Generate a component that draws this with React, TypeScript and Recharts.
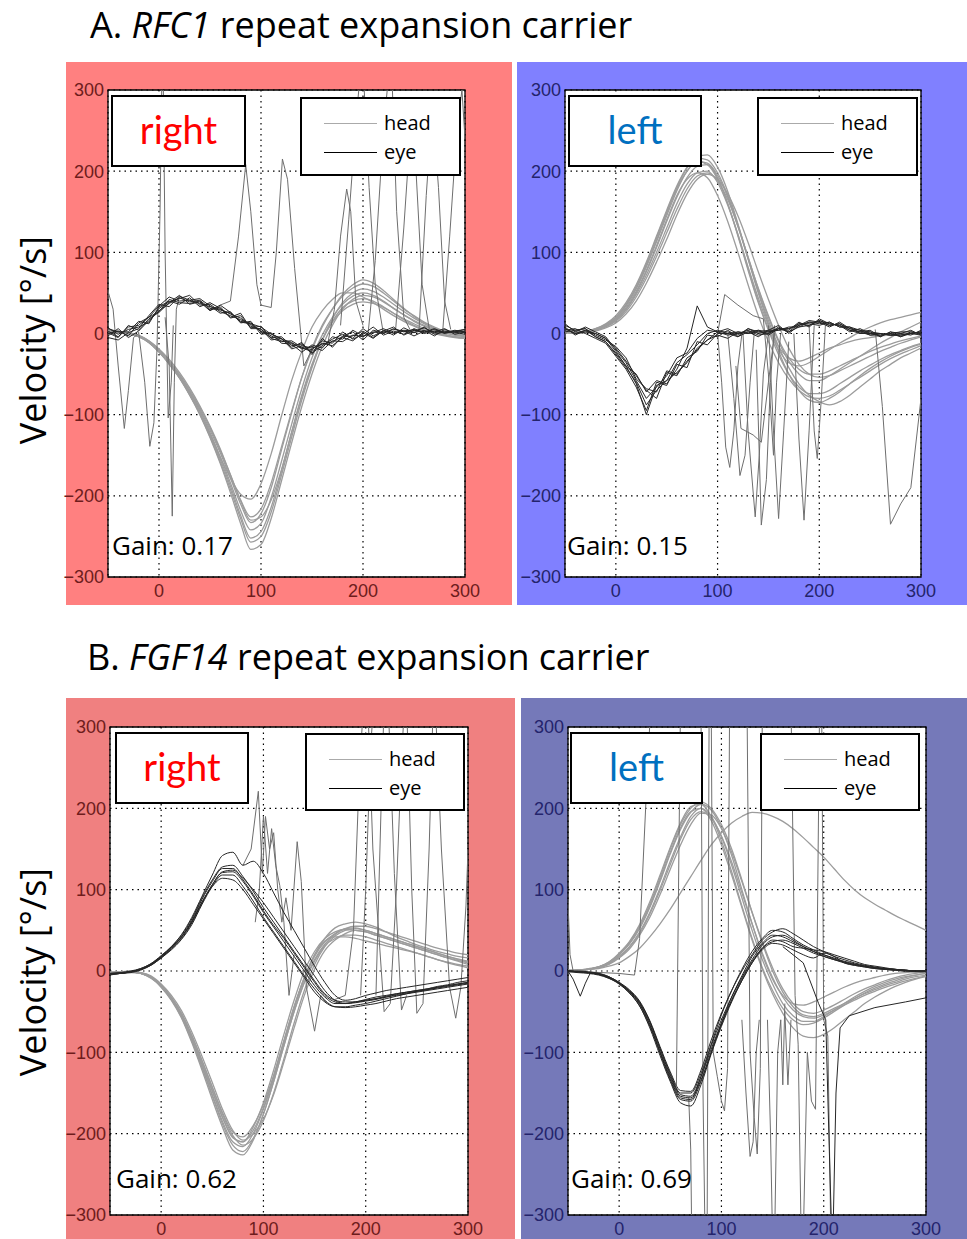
import React from "react";
import {
  LineChart,
  Line,
  XAxis,
  YAxis,
  CartesianGrid,
  ReferenceArea,
} from "recharts";

// time base (ms) for the smooth traces
const T10 = [
  -50, -40, -30, -20, -10, 0, 10, 20, 30, 40, 50, 60, 70, 80, 90, 100, 110, 120,
  130, 140, 150, 160, 170, 180, 190, 200, 210, 220, 230, 240, 250, 260, 270, 280, 290, 300,
];
const X_TICKS = [0, 100, 200, 300];
const Y_TICKS = [-300, -200, -100, 0, 100, 200, 300];

// ---- A. RFC1, right ----
const aRightHead = [
  [2, 1, 0, -4, -11, -23, -38, -55, -76, -100, -128, -160, -196, -234, -266, -260, -228, -182, -135, -90, -50, -16, 10, 30, 42, 47, 45, 39, 31, 23, 16, 10, 5, 1, -2, -4],
  [3, 2, 0, -3, -10, -22, -37, -54, -75, -99, -127, -158, -192, -228, -257, -250, -220, -175, -128, -82, -42, -8, 18, 38, 50, 55, 52, 45, 36, 27, 19, 12, 6, 2, -1, -3],
  [3, 2, 0, -3, -10, -22, -36, -52, -72, -95, -122, -152, -184, -218, -242, -234, -202, -158, -112, -68, -30, -2, 20, 36, 46, 50, 47, 40, 31, 23, 15, 9, 4, 1, -2, -3],
  [2, 1, -1, -4, -11, -22, -36, -52, -71, -93, -119, -147, -178, -210, -233, -222, -190, -144, -98, -54, -18, 10, 30, 46, 56, 61, 58, 50, 40, 30, 22, 14, 8, 3, 0, -2],
  [4, 3, 1, -2, -9, -20, -34, -50, -69, -91, -116, -144, -174, -205, -226, -216, -184, -140, -96, -54, -20, 8, 30, 48, 60, 66, 62, 53, 42, 31, 21, 13, 7, 2, -1, -3],
  [3, 2, 0, -3, -9, -19, -32, -48, -67, -89, -114, -142, -174, -206, -230, -226, -205, -168, -122, -78, -40, -8, 15, 32, 40, 43, 40, 33, 25, 17, 10, 4, 0, -3, -5, -6],
  [3, 2, 0, -4, -11, -23, -37, -54, -75, -98, -124, -152, -178, -198, -204, -185, -148, -102, -58, -22, 8, 28, 42, 50, 50, 45, 38, 30, 22, 15, 9, 4, 1, -2, -4, -5],
  [2, 2, 0, -3, -10, -22, -37, -54, -74, -98, -125, -155, -188, -224, -252, -244, -214, -170, -122, -76, -38, -8, 14, 28, 36, 39, 37, 32, 25, 18, 12, 6, 2, -1, -4, -6],
];
const aRightEye = [
  [3, -4, 8, 10, 20, 34, 45, 40, 41, 37, 33, 30, 24, 19, 9, 5, -3, -9, -12, -18, -22, -12, -15, -5, -9, 1, -6, 4, -2, 7, 1, 4, -3, 5, 1, 3],
  [-3, 6, -5, 3, 16, 28, 37, 44, 39, 41, 31, 29, 25, 15, 13, 2, 0, -7, -11, -19, -16, -21, -9, -10, -2, -4, 2, 0, 6, 2, 5, 0, 3, 1, 4, 2],
  [7, -1, 5, 8, 14, 31, 39, 43, 47, 35, 36, 27, 22, 17, 11, 3, -5, -4, -15, -13, -24, -15, -7, -1, -6, 6, -3, 3, 1, 4, 3, 7, 1, 3, 2, 5],
  [0, 3, -3, 13, 20, 27, 42, 38, 37, 40, 29, 33, 19, 22, 7, 9, -6, -10, -9, -17, -20, -9, -12, 2, -7, -1, 8, -2, 3, -1, 6, 1, 5, 0, 3, 1],
  [-5, -8, 1, 6, 22, 36, 33, 46, 41, 43, 34, 25, 27, 13, 15, -1, 1, -12, -13, -23, -14, -18, -4, -7, 4, -3, 1, 6, 0, 3, -3, 3, 2, 6, -1, 2],
  [6, 2, 2, 15, 12, 33, 40, 36, 44, 33, 38, 31, 20, 25, 6, 6, -8, -6, -17, -11, -26, -6, -17, -3, 2, -8, 4, 1, 5, 3, 1, 8, -1, 2, 3, 5],
  [1, -5, 10, 4, 18, 26, 38, 47, 36, 39, 28, 35, 26, 14, 12, 8, -1, -6, -19, -15, -18, -13, -10, -4, -3, 3, -5, 3, 8, -2, 4, 2, 6, 1, 2, -1],
];
const aRightSacc = [
  [[-50, 52], [-45, 30], [-40, -40], [-34, -117], [-30, -70], [-25, -5], [-20, 0]],
  [[-20, 2], [-14, -60], [-9, -139], [-5, -110], [-2, -20], [1, 150], [3, 330]],
  [[4, 330], [6, 100], [9, -104], [12, -60], [14, 10]],
  [[6, 20], [10, -40], [13, -225], [15, -60], [17, 30], [20, 45]],
  [[60, 35], [70, 40], [78, 120], [85, 208], [90, 150], [96, 60], [100, 35], [110, 32], [115, 100], [121, 215], [126, 190], [133, 80], [142, -40], [150, -20]],
  [[165, -15], [172, 30], [178, 120], [184, 178], [188, 150], [193, 40], [200, 10]],
  [[178, 10], [186, 140], [193, 260], [198, 330]],
  [[200, 330], [206, 180], [212, 60], [220, 0]],
  [[205, 0], [212, 90], [220, 250], [226, 330]],
  [[228, 330], [233, 150], [240, 20], [248, 0]],
  [[232, 5], [240, 130], [247, 260], [252, 200], [258, 60], [265, 5]],
  [[255, 5], [262, 170], [268, 280], [274, 180], [280, 40], [286, 5]],
  [[278, 0], [285, 120], [292, 250], [297, 300], [300, 240]],
];

// ---- A. RFC1, left ----
const aLeftHead = [
  [2, 1, 2, 6, 12, 22, 38, 60, 88, 120, 152, 182, 205, 218, 220, 205, 175, 135, 92, 50, 12, -22, -50, -70, -82, -85, -80, -72, -62, -52, -43, -35, -28, -22, -17, -13],
  [1, 0, 1, 4, 9, 17, 30, 50, 76, 106, 138, 168, 192, 206, 208, 192, 160, 120, 78, 38, 4, -26, -50, -66, -74, -74, -70, -62, -54, -46, -39, -32, -26, -21, -16, -12],
  [2, 1, 2, 5, 10, 18, 32, 52, 78, 108, 140, 170, 190, 198, 192, 170, 138, 100, 60, 22, -10, -36, -56, -70, -78, -80, -77, -70, -62, -54, -46, -38, -31, -25, -20, -15],
  [3, 2, 3, 6, 11, 20, 35, 56, 84, 115, 148, 178, 200, 212, 210, 195, 168, 132, 92, 52, 16, -16, -42, -62, -76, -84, -88, -84, -76, -66, -56, -46, -38, -30, -24, -18],
  [1, 1, 2, 4, 8, 15, 27, 45, 68, 95, 124, 153, 178, 194, 198, 188, 165, 132, 94, 56, 22, -8, -30, -44, -50, -50, -46, -40, -34, -28, -22, -17, -13, -9, -6, -3],
  [2, 2, 3, 5, 9, 16, 29, 48, 72, 100, 130, 160, 184, 198, 200, 186, 158, 122, 82, 44, 10, -16, -30, -34, -30, -24, -18, -14, -10, -7, -5, -3, -2, -1, 0, 0],
  [2, 1, 2, 5, 11, 20, 36, 58, 86, 118, 150, 180, 204, 216, 214, 198, 170, 134, 94, 55, 20, -10, -34, -50, -58, -58, -52, -44, -36, -28, -20, -12, -5, 2, 8, 14],
  [1, 0, 1, 3, 7, 13, 24, 40, 62, 88, 116, 146, 172, 190, 196, 190, 172, 145, 112, 76, 42, 10, -18, -38, -50, -54, -52, -46, -40, -34, -28, -22, -17, -12, -8, -4],
  [2, 1, 2, 5, 10, 19, 34, 55, 82, 113, 145, 176, 200, 212, 208, 190, 160, 122, 80, 40, 6, -20, -36, -40, -36, -28, -20, -12, -5, 2, 8, 13, 17, 20, 23, 26],
];
const aLeftEye = [
  [10, 4, 6, -4, -10, -26, -42, -60, -88, -70, -58, -48, -36, -18, -8, 2, -2, 0, 4, -2, 0, 8, 2, 12, 10, 16, 10, 12, 4, 0, 2, -4, 2, -4, 0, 2],
  [6, 0, 2, 0, -6, -18, -34, -52, -70, -80, -48, -52, -30, -22, -2, -4, 4, -4, 6, 2, 4, 4, 8, 8, 14, 12, 14, 8, 8, 4, -2, 0, -2, 0, 4, -2],
  [4, 6, 0, -6, -12, -28, -44, -66, -95, -60, -64, -38, -42, -10, -14, 0, 0, 2, 0, 4, -2, 6, 4, 14, 8, 18, 12, 10, 2, 6, 0, -2, 0, -4, 2, 0],
  [12, 2, 8, 2, -4, -20, -36, -58, -80, -66, -52, -30, -24, -6, 4, 2, 6, 0, 2, -4, 4, 10, 0, 10, 16, 14, 8, 14, 6, 2, 4, -4, 2, 0, -2, 4],
  [8, -2, 4, -4, -10, -24, -40, -50, -72, -58, -62, -44, -18, 34, 8, 2, 2, -2, 6, 0, 2, 4, 6, 12, 12, 10, 14, 8, 8, 0, 0, 0, -2, -2, 0, -2],
  [2, 4, 6, -2, -8, -16, -30, -56, -68, -72, -46, -50, -34, -20, -8, -2, -6, 2, 0, 2, 0, 6, 2, 8, 10, 16, 12, 10, 4, 2, -2, -2, 0, 2, 2, 0],
  [6, 0, 4, 0, -6, -22, -40, -62, -100, -64, -58, -36, -26, -14, 0, 4, 0, -4, 2, 4, 2, 6, 6, 10, 14, 14, 10, 12, 6, 4, 2, 0, -2, -2, 0, 2],
];
const aLeftSacc = [
  [[100, 0], [104, -60], [108, -140], [112, -165], [116, -120], [120, -40], [124, 0]],
  [[100, 0], [107, 48], [120, 35], [135, 22], [145, 18], [150, -50], [155, -150], [158, -60], [162, 0]],
  [[110, 0], [116, -80], [122, -175], [127, -150], [132, -60], [136, 0]],
  [[118, -40], [123, -117], [135, -125], [143, -134], [150, -60], [156, 0]],
  [[125, 0], [130, -120], [137, -226], [141, -150], [145, -50], [150, 0]],
  [[138, -20], [143, -236], [148, -180], [152, -60], [156, 10]],
  [[150, 10], [155, -120], [160, -228], [165, -120], [170, -10]],
  [[175, 0], [180, -130], [185, -230], [190, -120], [195, 10]],
  [[190, 10], [195, -120], [198, -154], [202, -80], [206, 10]],
  [[255, 5], [262, -90], [270, -235], [280, -210], [290, -190], [300, -80]],
];

// ---- B. FGF14, right ----
const bRightHead = [
  [-2, -2, -1, -3, -8, -20, -36, -58, -88, -122, -158, -192, -220, -226, -208, -176, -136, -92, -50, -14, 14, 33, 45, 52, 55, 55, 52, 48, 44, 40, 36, 32, 28, 25, 22, 20],
  [-3, -2, -2, -3, -9, -19, -35, -56, -85, -118, -152, -185, -210, -216, -200, -170, -132, -88, -46, -10, 18, 36, 46, 52, 53, 50, 46, 42, 38, 34, 30, 26, 22, 18, 15, 12],
  [-2, -2, -1, -3, -8, -19, -34, -55, -83, -115, -148, -180, -204, -210, -192, -162, -122, -78, -36, 0, 24, 40, 48, 51, 50, 48, 44, 40, 36, 32, 28, 24, 20, 16, 13, 10],
  [-2, -1, -1, -2, -7, -17, -32, -52, -79, -110, -143, -176, -202, -214, -206, -184, -150, -108, -64, -24, 8, 30, 43, 50, 52, 50, 46, 42, 38, 34, 30, 26, 22, 18, 14, 11],
  [-1, -1, 0, -2, -7, -18, -33, -53, -80, -111, -143, -174, -198, -204, -190, -164, -128, -86, -44, -8, 20, 40, 53, 58, 60, 58, 54, 48, 42, 37, 32, 28, 24, 21, 18, 16],
  [-2, -2, -1, -3, -8, -19, -34, -55, -83, -114, -147, -180, -205, -210, -196, -168, -130, -86, -44, -8, 20, 37, 42, 42, 40, 37, 34, 31, 28, 25, 22, 18, 14, 10, 7, 4],
  [-3, -2, -1, -3, -8, -19, -35, -57, -86, -119, -154, -188, -214, -222, -206, -176, -136, -92, -50, -14, 12, 31, 40, 44, 44, 42, 38, 34, 30, 26, 22, 18, 14, 11, 8, 6],
  [-2, -1, -1, -2, -6, -16, -30, -49, -75, -105, -137, -170, -196, -208, -200, -182, -152, -112, -70, -30, 2, 25, 38, 46, 50, 48, 44, 40, 36, 32, 28, 24, 20, 16, 12, 8],
];
const bRightEye = [
  [-4, -3, -1, 2, 8, 17, 28, 42, 62, 88, 110, 126, 126, 112, 94, 74, 56, 40, 22, 4, -14, -30, -38, -40, -39, -37, -35, -32, -30, -28, -26, -24, -22, -20, -18, -16],
  [-3, -2, 0, 3, 9, 19, 30, 44, 64, 90, 112, 128, 130, 116, 98, 78, 60, 42, 24, 6, -12, -28, -36, -38, -38, -36, -34, -32, -29, -27, -25, -23, -21, -19, -17, -15],
  [-4, -3, -1, 2, 7, 16, 26, 39, 57, 82, 104, 118, 118, 104, 86, 66, 48, 30, 12, -6, -22, -36, -44, -45, -44, -42, -40, -37, -34, -32, -30, -28, -26, -24, -22, -20],
  [-5, -3, -2, 1, 7, 16, 27, 40, 59, 84, 106, 122, 124, 114, 100, 84, 66, 48, 30, 12, -6, -24, -36, -40, -38, -36, -34, -31, -28, -26, -24, -22, -19, -17, -14, -12],
  [-3, -2, -1, 2, 8, 17, 28, 42, 61, 85, 104, 114, 112, 100, 82, 64, 46, 28, 10, -8, -26, -38, -44, -44, -42, -40, -37, -34, -31, -28, -25, -23, -20, -18, -16, -14],
  [-4, -3, -1, 2, 8, 18, 30, 45, 66, 92, 118, 142, 146, 130, 135, 120, 96, 72, 50, 28, 6, -14, -30, -36, -34, -30, -27, -24, -22, -20, -18, -16, -14, -12, -10, -8],
  [-3, -3, -1, 3, 9, 18, 29, 42, 60, 84, 106, 121, 122, 110, 92, 72, 54, 36, 18, 0, -18, -32, -40, -40, -38, -35, -32, -30, -28, -26, -24, -22, -20, -18, -16, -14],
];
const bRightSacc = [
  [[80, 130], [88, 150], [95, 221], [99, 120], [102, 190], [106, 150], [110, 170], [114, 100], [118, 60], [122, 90], [127, 50], [133, 159], [137, 110], [142, -20], [150, -74], [156, -30], [162, -40]],
  [[92, 60], [96, 100], [100, 190], [104, 120], [108, 175], [112, 130], [116, 105], [120, 60], [125, -30], [130, 20]],
  [[170, -35], [180, -30], [188, 50], [194, 250], [198, 330]],
  [[202, 330], [207, 150], [212, 60], [218, -50], [224, -40], [230, 100], [235, 260], [238, 330]],
  [[210, -30], [215, 200], [218, 330]],
  [[240, 330], [245, 100], [250, -52], [256, -40], [262, 150], [266, 330]],
  [[268, 330], [274, 150], [282, -20], [288, -58], [293, -20], [298, 80], [300, 150]],
  [[195, -30], [200, 100], [205, 280], [208, 330]],
  [[222, 330], [228, 120], [235, -48], [240, -30]],
];

// ---- B. FGF14, left ----
const bLeftHead = [
  [0, 1, 2, 5, 11, 22, 36, 57, 85, 118, 152, 182, 202, 205, 190, 160, 122, 80, 40, 4, -24, -46, -60, -66, -64, -58, -50, -42, -34, -27, -21, -16, -12, -8, -5, -3],
  [0, 1, 2, 4, 9, 18, 30, 48, 72, 102, 135, 165, 190, 200, 190, 165, 130, 90, 50, 14, -16, -40, -55, -62, -62, -56, -48, -40, -32, -25, -19, -14, -10, -7, -5, -3],
  [1, 1, 3, 5, 10, 20, 34, 54, 80, 112, 146, 176, 196, 200, 185, 155, 118, 78, 38, 2, -28, -52, -70, -80, -82, -78, -70, -60, -50, -40, -32, -25, -19, -14, -10, -7],
  [0, 1, 2, 4, 8, 16, 27, 44, 66, 94, 125, 155, 180, 194, 192, 175, 146, 110, 72, 36, 4, -22, -40, -50, -52, -48, -42, -35, -28, -22, -17, -12, -8, -5, -3, -1],
  [0, 1, 2, 5, 10, 20, 33, 52, 78, 110, 144, 174, 195, 205, 198, 176, 142, 100, 58, 20, -10, -30, -40, -42, -38, -32, -26, -20, -15, -11, -8, -5, -3, -2, -1, 0],
  [1, 1, 2, 4, 9, 17, 29, 46, 70, 99, 131, 162, 186, 196, 188, 166, 134, 96, 58, 22, -8, -32, -48, -56, -58, -54, -48, -42, -36, -30, -25, -20, -16, -12, -9, -6],
  [0, 1, 2, 5, 11, 21, 35, 55, 82, 115, 150, 180, 200, 208, 200, 180, 150, 112, 72, 34, 0, -26, -44, -54, -56, -52, -46, -40, -34, -28, -23, -18, -14, -10, -7, -5],
  [0, 1, 2, 3, 6, 10, 18, 28, 42, 58, 76, 96, 116, 136, 155, 170, 182, 190, 195, 194, 190, 184, 175, 164, 152, 140, 126, 112, 100, 90, 82, 75, 68, 62, 56, 50],
];
const bLeftEye = [
  [0, -1, -2, -4, -8, -15, -25, -40, -66, -100, -132, -156, -158, -130, -92, -60, -32, -8, 14, 32, 42, 44, 38, 30, 24, 20, 16, 12, 9, 6, 4, 3, 2, 1, 0, 0],
  [0, -1, -2, -3, -7, -14, -23, -37, -61, -93, -124, -147, -148, -122, -85, -52, -24, 0, 20, 38, 48, 52, 46, 38, 30, 24, 18, 14, 10, 7, 5, 3, 2, 1, 0, 0],
  [0, -1, -2, -4, -9, -16, -27, -43, -70, -104, -136, -162, -166, -140, -102, -68, -38, -12, 10, 28, 36, 38, 34, 28, 22, 18, 14, 11, 8, 6, 4, 3, 2, 1, 0, 0],
  [-1, -2, -3, -5, -9, -15, -25, -39, -62, -95, -126, -150, -150, -126, -90, -54, -24, 2, 24, 40, 50, 48, 40, 32, 26, 20, 15, 11, 8, 6, 4, 2, 1, 0, -1, -1],
  [0, 0, -1, -3, -7, -14, -24, -38, -63, -96, -128, -152, -154, -130, -96, -64, -36, -12, 10, 26, 34, 32, 26, 20, 16, 22, 18, 10, 7, 5, 3, 2, 1, 0, 0, 0],
  [0, -1, -2, -4, -8, -15, -26, -41, -66, -99, -130, -154, -156, -134, -100, -66, -36, -10, 12, 28, 38, 36, 30, 28, 26, 24, 20, 16, 12, 8, 6, 4, 2, 1, 0, 0],
  [0, -1, -2, -4, -8, -16, -27, -43, -68, -101, -134, -158, -160, -136, -100, -64, -32, -6, 18, 34, 44, 42, 36, 30, 24, 18, 14, 10, 7, 5, 3, 2, 1, 0, 0, 0],
];
const bLeftEyeExtra = [
  [[-50, 0], [-45, -10], [-38, -31], [-33, -15], [-28, -2], [-20, -3]],
  [[160, 30], [180, 10], [195, -40], [202, -60], [205, -200], [208, -330]],
  [[209, -330], [212, -150], [216, -70], [225, -55], [250, -45], [280, -38], [300, -33]],
];
const bLeftSacc = [
  [[-50, 85], [-48, 20], [-45, 0]],
  [[-50, 0], [0, -3], [15, -5], [20, 40], [27, 230], [31, 330]],
  [[56, -140], [60, 330]],
  [[68, -155], [70, -220], [71, -330]],
  [[80, 330], [82, -150], [84, -330]],
  [[86, -330], [88, 330]],
  [[90, 330], [92, -100], [96, -130], [100, -160], [103, -172], [106, -120], [108, 330]],
  [[125, 330], [128, -100], [132, -180], [135, -225], [138, -120], [140, 330]],
  [[120, -60], [124, -150], [128, -228], [131, -210], [134, -100], [137, -60]],
  [[145, -60], [148, -200], [150, -330]],
  [[152, -330], [155, -100], [158, -60], [160, -140], [162, -40]],
  [[162, -50], [165, -140], [168, -60]],
  [[168, 330], [172, -30], [175, -90], [178, -330]],
  [[180, -330], [184, -100], [188, -160], [192, -170], [196, 330]],
  [[198, 330], [200, -60], [204, -80], [207, -330]],
];

const onGrid = (vals: number[]) => vals.map((v, i) => ({ t: T10[i], v }));
const fromPairs = (p: number[][]) => p.map(([t, v]) => ({ t, v }));
const fmtY = (v: number) => (v < 0 ? "\u2212" + Math.abs(v) : String(v));

const FONT = "'Open Sans', 'Noto Sans', sans-serif";
const BOX_FONT = "Lato, 'Open Sans', sans-serif";
const TICK_FONT = "'Liberation Sans', Arial, sans-serif";
const BLEED = 16; // svg reaches a little left of the coloured panel so the tick labels fit

type Rect = { l: number; t: number; r: number; b: number };

interface PanelProps {
  bg: Rect;
  plot: Rect;
  color: string;
  tickColor: string;
  heads: number[][];
  eyes: number[][];
  sacc: number[][][];
  eyeExtra?: number[][][];
  smoothEye?: boolean;
}

function Panel({ bg, plot, color, tickColor, heads, eyes, sacc, eyeExtra = [], smoothEye }: PanelProps) {
  const w = bg.r - bg.l;
  const h = bg.b - bg.t;
  return (
    <div style={{ position: "absolute", left: bg.l, top: bg.t, width: w, height: h, background: color }}>
      <div style={{ position: "absolute", left: -BLEED, top: 0 }}>
        <LineChart
          width={w + BLEED}
          height={h}
          margin={{ top: plot.t - bg.t, right: bg.r - plot.r, bottom: 0, left: 0 }}
        >
          <CartesianGrid stroke="#000" strokeDasharray="1.5 4" strokeWidth={1.2} fill="#fff" />
          <XAxis
            dataKey="t"
            type="number"
            domain={[-50, 300]}
            ticks={X_TICKS}
            allowDataOverflow
            height={bg.b - plot.b}
            tickLine={false}
            axisLine={false}
            tickSize={0}
            tickMargin={7}
            tick={{ fill: tickColor, fontSize: 18, fontFamily: TICK_FONT }}
          />
          <YAxis
            type="number"
            domain={[-300, 300]}
            ticks={Y_TICKS}
            allowDataOverflow
            width={plot.l - bg.l + BLEED}
            tickLine={false}
            axisLine={false}
            tickSize={0}
            tickMargin={4}
            tickFormatter={fmtY}
            tick={{ fill: tickColor, fontSize: 18, fontFamily: TICK_FONT }}
          />
          {heads.map((s, i) => (
            <Line key={"h" + i} data={onGrid(s)} dataKey="v" type="monotone" stroke="#9c9c9c"
              strokeWidth={1.3} dot={false} activeDot={false} isAnimationActive={false} />
          ))}
          {sacc.map((s, i) => (
            <Line key={"s" + i} data={fromPairs(s)} dataKey="v" type="linear" stroke="#6e6e6e"
              strokeWidth={1} dot={false} activeDot={false} isAnimationActive={false} />
          ))}
          {eyes.map((s, i) => (
            <Line key={"e" + i} data={onGrid(s)} dataKey="v" type={smoothEye ? "monotone" : "linear"}
              stroke="#262626" strokeWidth={1} dot={false} activeDot={false} isAnimationActive={false} />
          ))}
          {eyeExtra.map((s, i) => (
            <Line key={"x" + i} data={fromPairs(s)} dataKey="v" type="linear" stroke="#262626"
              strokeWidth={1} dot={false} activeDot={false} isAnimationActive={false} />
          ))}
          <ReferenceArea x1={-50} x2={300} y1={-300} y2={300} fill="none" stroke="#000" strokeWidth={1.3} />
        </LineChart>
      </div>
    </div>
  );
}

function SideBox({ x, y, w, h, text, color }: { x: number; y: number; w: number; h: number; text: string; color: string }) {
  return (
    <div style={{
      position: "absolute", left: x, top: y, width: w, height: h, boxSizing: "border-box",
      border: "2px solid #000", background: "#fff", display: "flex", alignItems: "center",
      justifyContent: "center", color, fontFamily: BOX_FONT, fontSize: 38, lineHeight: 1,
    }}>
      <span style={{ marginTop: -4 }}>{text}</span>
    </div>
  );
}

function LegendBox({ x, y, w, h }: { x: number; y: number; w: number; h: number }) {
  const row = (label: string, stroke: string, top: number) => (
    <div style={{ position: "absolute", left: 0, top, width: w, height: 0 }}>
      <div style={{ position: "absolute", left: 22, top: -1, width: 53, height: 0, borderTop: `1.6px solid ${stroke}` }} />
      <div style={{ position: "absolute", left: 82, top: -15, fontSize: 20, lineHeight: "28px", fontFamily: FONT, color: "#000" }}>
        {label}
      </div>
    </div>
  );
  return (
    <div style={{
      position: "absolute", left: x, top: y, width: w, height: h, boxSizing: "border-box",
      border: "2px solid #000", background: "#fff",
    }}>
      {row("head", "#aaaaaa", 25)}
      {row("eye", "#000", 54)}
    </div>
  );
}

function Gain({ x, y, text }: { x: number; y: number; text: string }) {
  return (
    <div style={{ position: "absolute", left: x, top: y - 17, fontFamily: FONT, fontSize: 26, lineHeight: "34px", color: "#000", whiteSpace: "nowrap" }}>
      {text}
    </div>
  );
}

function YLabel({ cy }: { cy: number }) {
  return (
    <div style={{
      position: "absolute", left: 33, top: cy, transform: "translate(-50%, -50%) rotate(-90deg)",
      whiteSpace: "nowrap", fontFamily: FONT, fontSize: 36, lineHeight: 1, color: "#000",
    }}>
      Velocity [°/s]
    </div>
  );
}

export default function App() {
  return (
    <div style={{ position: "absolute", left: 0, top: 0, width: 967, height: 1239, background: "#fff", overflow: "hidden" }}>
      <div style={{ position: "absolute", left: 90, top: 2, fontFamily: FONT, fontSize: 36, lineHeight: "46px", whiteSpace: "nowrap" }}>
        A. <i>RFC1</i> repeat expansion carrier
      </div>
      <div style={{ position: "absolute", left: 87, top: 634, fontFamily: FONT, fontSize: 36, lineHeight: "46px", whiteSpace: "nowrap" }}>
        B. <i>FGF14</i> repeat expansion carrier
      </div>

      <Panel bg={{ l: 66, t: 62, r: 512, b: 605 }} plot={{ l: 108, t: 90, r: 465, b: 577 }}
        color="#ff8080" tickColor="#6e1c1c" heads={aRightHead} eyes={aRightEye} sacc={aRightSacc} />
      <Panel bg={{ l: 517, t: 62, r: 967, b: 605 }} plot={{ l: 565, t: 90, r: 921, b: 577 }}
        color="#8080ff" tickColor="#24246c" heads={aLeftHead} eyes={aLeftEye} sacc={aLeftSacc} />
      <Panel bg={{ l: 66, t: 698, r: 515, b: 1239 }} plot={{ l: 110, t: 727, r: 468, b: 1215 }}
        color="#f08080" tickColor="#6e1c1c" heads={bRightHead} eyes={bRightEye} sacc={bRightSacc} smoothEye />
      <Panel bg={{ l: 521, t: 698, r: 967, b: 1239 }} plot={{ l: 568, t: 727, r: 926, b: 1215 }}
        color="#7579b9" tickColor="#24246c" heads={bLeftHead} eyes={bLeftEye} sacc={bLeftSacc}
        eyeExtra={bLeftEyeExtra} smoothEye />

      <SideBox x={111} y={95} w={135} h={72} text="right" color="#ff0000" />
      <LegendBox x={300} y={97} w={161} h={79} />
      <SideBox x={568} y={95} w={134} h={72} text="left" color="#0070c0" />
      <LegendBox x={757} y={97} w={161} h={79} />
      <SideBox x={115} y={732} w={134} h={72} text="right" color="#ff0000" />
      <LegendBox x={305} y={733} w={160} h={78} />
      <SideBox x={570} y={732} w={133} h={72} text="left" color="#0070c0" />
      <LegendBox x={760} y={733} w={160} h={78} />

      <Gain x={112} y={545} text="Gain: 0.17" />
      <Gain x={567} y={545} text="Gain: 0.15" />
      <Gain x={116} y={1178} text="Gain: 0.62" />
      <Gain x={571} y={1178} text="Gain: 0.69" />

      <YLabel cy={340} />
      <YLabel cy={972} />
    </div>
  );
}
